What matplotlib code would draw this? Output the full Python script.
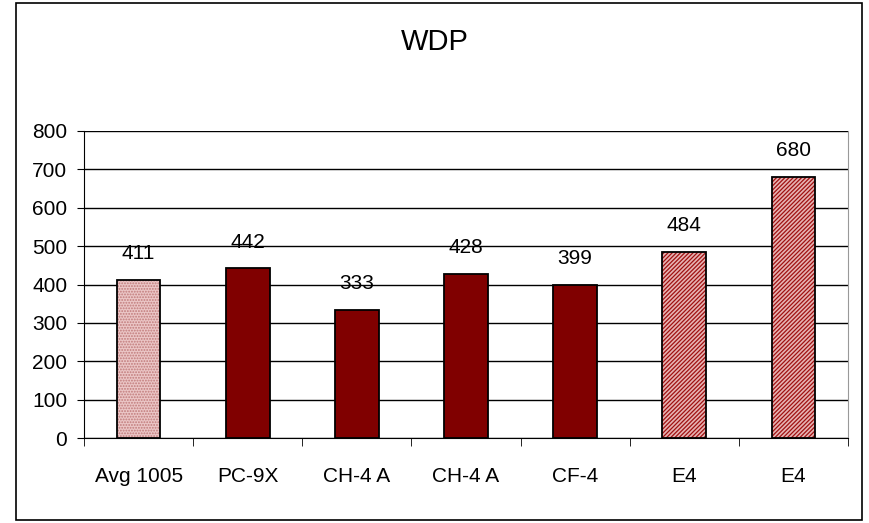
import matplotlib
matplotlib.use("Agg")
import matplotlib.pyplot as plt
from matplotlib.patches import Rectangle
import numpy as np

plt.rcParams['font.family'] = ['Liberation Sans', 'DejaVu Sans']
plt.rcParams['hatch.linewidth'] = 0.9

# chart data
categories = ["Avg 1005", "PC-9X", "CH-4 A", "CH-4 A", "CF-4", "E4", "E4"]
values = [411, 442, 333, 428, 399, 484, 680]
styles = ["dots", "solid", "solid", "solid", "solid", "diag", "diag"]
title = "WDP"
y_ticks = [0, 100, 200, 300, 400, 500, 600, 700, 800]

fs = 15

fig = plt.figure(figsize=(8.69, 5.23), dpi=100)
# outer chart border
fig.patches.append(Rectangle((16 / 869, 3 / 523), 846 / 869, 517 / 523,
                             transform=fig.transFigure, fill=False,
                             edgecolor='black', linewidth=1.2))

ax = fig.add_axes([84 / 869, 1 - 438 / 523, 764 / 869, 307 / 523])
x = np.arange(len(categories))
width = 0.4

for xi, v, s in zip(x, values, styles):
    if s == "solid":
        ax.bar(xi, v, width, color='#800000', edgecolor='black', linewidth=1.3, zorder=3)
    elif s == "dots":
        ax.bar(xi, v, width, color='#ebc6c6', edgecolor='#c07a7a', hatch='......',
               linewidth=0, zorder=3)
        ax.bar(xi, v, width, fill=False, edgecolor='black', linewidth=1.3, zorder=4)
    else:
        ax.bar(xi, v, width, color='#e6b2b2', edgecolor='#a01010', hatch='////////',
               linewidth=0, zorder=3)
        ax.bar(xi, v, width, fill=False, edgecolor='black', linewidth=1.3, zorder=4)
    ax.annotate(str(v), (xi, v), xytext=(0, 15), textcoords='offset points',
                ha='center', va='baseline', fontsize=fs)

ax.set_xlim(-0.5, len(categories) - 0.5)
ax.set_ylim(0, 800)
ax.set_yticks(y_ticks)
ax.yaxis.grid(True, color='black', linewidth=1.0, zorder=0)
ax.set_axisbelow(True)
ax.tick_params(axis='y', labelsize=fs, length=5, direction='out', pad=7)

ax.set_xticks(x)
ax.set_xticklabels(categories)
ax.set_xticks(np.arange(len(categories) + 1) - 0.5, minor=True)
ax.tick_params(axis='x', which='major', length=0, labelsize=fs, pad=21)
ax.tick_params(axis='x', which='minor', length=6, direction='out')

ax.spines['top'].set_visible(False)
ax.spines['right'].set_color('#999999')
ax.spines['left'].set_color('black')
ax.spines['bottom'].set_color('black')

fig.text(0.5, 1 - 42 / 523, title, ha='center', va='center', fontsize=21)

fig.savefig("out.png", dpi=100)
